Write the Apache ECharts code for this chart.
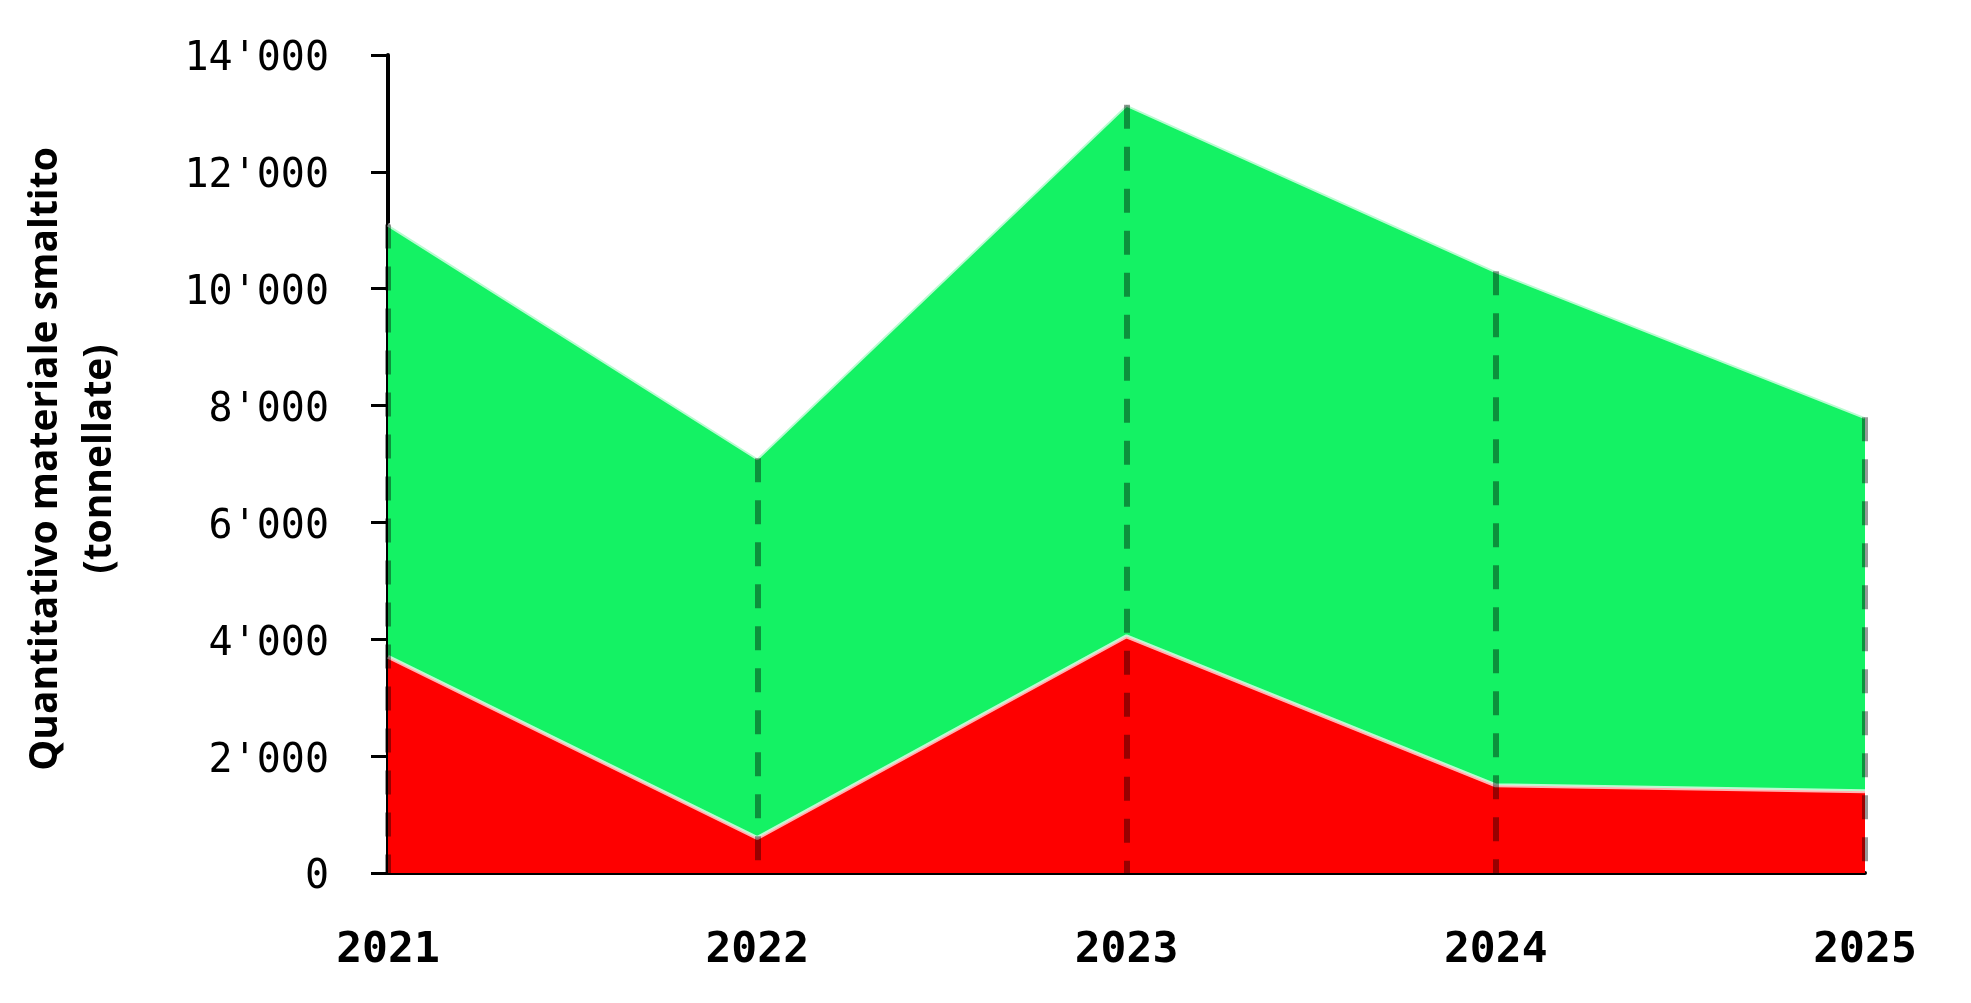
<!DOCTYPE html>
<html>
<head>
<meta charset="utf-8">
<script src="https://cdn.jsdelivr.net/npm/echarts@6/dist/echarts.min.js"></script>
<style>
  html, body { margin: 0; padding: 0; background: #fff; }
  #chart { width: 1971px; height: 1003px; }
</style>
</head>
<body>
<div id="chart"></div>
<script>
// anni e quantità (tonnellate)
const years = ['2021', '2022', '2023', '2024', '2025'];
const redValues = [3700, 600, 4050, 1500, 1400];
const greenValues = [7400, 6500, 9100, 8800, 6400];
const yTicks = { min: 0, max: 14000, step: 2000 };

const totals = years.map((_, i) => redValues[i] + greenValues[i]);

// linee tratteggiate verticali dal totale fino a zero
const dropLines = years.map((y, i) => [
  { coord: [y, totals[i]] },
  { coord: [y, 0] },
]);

const fmt = (v) => '{n|' + String(v).replace(/\B(?=(\d{3})+(?!\d))/g, "'") + '}';

const chart = echarts.init(document.getElementById('chart'), null, { renderer: 'canvas' });

chart.setOption({
  backgroundColor: '#fff',
  animation: false,
  grid: { left: 388, right: 106, top: 55, bottom: 130 },
  xAxis: {
    type: 'category',
    data: years,
    boundaryGap: false,
    axisLine: { lineStyle: { color: '#000', width: 4 } },
    axisTick: { show: false },
    axisLabel: {
      color: '#000',
      fontFamily: 'DejaVu Sans Mono',
      fontWeight: 'bold',
      fontSize: 43,
      margin: 56,
    },
  },
  yAxis: {
    type: 'value',
    min: yTicks.min,
    max: yTicks.max,
    interval: yTicks.step,
    name: 'Quantitativo materiale smaltito\n(tonnellate)',
    nameLocation: 'middle',
    nameRotate: 90,
    nameGap: 261,
    nameTextStyle: {
      color: '#000',
      fontFamily: 'Open Sans',
      fontWeight: 'bold',
      fontSize: 39,
      lineHeight: 54,
      padding: [0, 0, 0, 10],
    },
    splitLine: { show: false },
    axisLine: { show: true, lineStyle: { color: '#000', width: 4 } },
    axisTick: { show: true, length: 17, lineStyle: { color: '#000', width: 3 } },
    axisLabel: {
      color: '#000',
      fontFamily: 'DejaVu Sans Mono',
      fontSize: 40,
      margin: 59,
      formatter: fmt,
      rich: {
        n: {
          fontFamily: 'DejaVu Sans Mono',
          fontSize: 40,
          color: '#000',
          padding: [10, 0, 0, 0],
        },
      },
    },
  },
  series: [
    {
      name: 'rosso',
      type: 'line',
      stack: 'tot',
      data: redValues,
      symbol: 'none',
      z: 3,
      lineStyle: { color: 'rgba(255,255,255,0.7)', width: 4 },
      areaStyle: { color: '#fe0000', opacity: 1 },
    },
    {
      name: 'verde',
      type: 'line',
      stack: 'tot',
      data: greenValues,
      symbol: 'none',
      z: 2,
      lineStyle: { color: 'rgba(255,255,255,0.7)', width: 4 },
      areaStyle: { color: '#14f264', opacity: 1 },
      markLine: {
        silent: true,
        symbol: 'none',
        z: 5,
        label: { show: false },
        lineStyle: { color: 'rgba(0,0,0,0.4)', width: 6, type: [24, 18] },
        data: dropLines,
      },
    },
  ],
});
</script>
</body>
</html>
